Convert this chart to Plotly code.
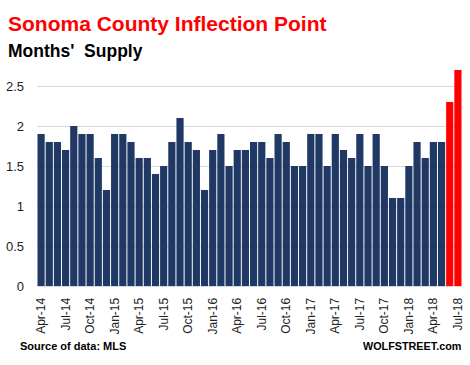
import plotly.graph_objects as go

months = ["Apr-14","May-14","Jun-14","Jul-14","Aug-14","Sep-14","Oct-14","Nov-14","Dec-14",
          "Jan-15","Feb-15","Mar-15","Apr-15","May-15","Jun-15","Jul-15","Aug-15","Sep-15","Oct-15","Nov-15","Dec-15",
          "Jan-16","Feb-16","Mar-16","Apr-16","May-16","Jun-16","Jul-16","Aug-16","Sep-16","Oct-16","Nov-16","Dec-16",
          "Jan-17","Feb-17","Mar-17","Apr-17","May-17","Jun-17","Jul-17","Aug-17","Sep-17","Oct-17","Nov-17","Dec-17",
          "Jan-18","Feb-18","Mar-18","Apr-18","May-18","Jun-18","Jul-18"]
supply = [1.9,1.8,1.8,1.7,2.0,1.9,1.9,1.6,1.2,
          1.9,1.9,1.8,1.6,1.6,1.4,1.5,1.8,2.1,1.8,1.7,1.2,
          1.7,1.9,1.5,1.7,1.7,1.8,1.8,1.6,1.9,1.8,1.5,1.5,
          1.9,1.9,1.5,1.9,1.7,1.6,1.9,1.5,1.9,1.5,1.1,1.1,
          1.5,1.8,1.6,1.8,1.8,2.3,2.7]
highlight_last = 2
tick_labels = months[::3]
y_ticks = [0, 0.5, 1, 1.5, 2, 2.5]

NAVY = "#203864"
RED = "#FF0000"
colors = [NAVY] * (len(months) - highlight_last) + [RED] * highlight_last

FONT = "Liberation Sans"

fig = go.Figure(go.Bar(x=months, y=supply, marker=dict(color=colors, line=dict(width=0)),
                       hoverinfo="x+y"))

W, H = 470, 365
L, R, T, B = 37, 8, 62, 79
pw, ph = W - L - R, H - T - B

def px(x):
    return (x - L) / pw

def py(y):
    return (H - B - y) / ph

fig.update_layout(
    width=W, height=H,
    margin=dict(l=L, r=R, t=T, b=B, pad=0, autoexpand=False),
    plot_bgcolor="white", paper_bgcolor="white",
    bargap=0.12,
    showlegend=False,
    font=dict(family=FONT, color="#222222"),
    xaxis=dict(
        type="category",
        range=[-0.5, len(months) - 0.5],
        tickmode="array", tickvals=tick_labels, ticktext=tick_labels,
        tickangle=-90, tickfont=dict(size=12, color="#222222"),
        showline=True, linecolor="#d9d9d9", linewidth=1,
        ticks="", showgrid=False, automargin=False,
        ticklabelstandoff=6,
    ),
    yaxis=dict(
        range=[0, 2.8],
        tickmode="array", tickvals=y_ticks, ticktext=[f"{v:g}" for v in y_ticks],
        tickfont=dict(size=13, color="#222222"),
        showgrid=True, gridcolor="#d9d9d9", gridwidth=1,
        zeroline=False, showline=False, ticks="", automargin=False,
        ticklabelstandoff=12,
    ),
    annotations=[
        dict(text="<b>Sonoma County Inflection Point</b>", x=px(6), y=py(23), xref="paper", yref="paper",
             xanchor="left", yanchor="middle", showarrow=False, font=dict(size=21, color=RED, family=FONT)),
        dict(text="<b>Months'  Supply</b>", x=px(6), y=py(51), xref="paper", yref="paper",
             xanchor="left", yanchor="middle", showarrow=False, font=dict(size=17.5, color="#000000", family=FONT)),
        dict(text="<b>Source of data: MLS</b>", x=px(18), y=py(346), xref="paper", yref="paper",
             xanchor="left", yanchor="middle", showarrow=False, font=dict(size=11, color="#000000", family=FONT)),
        dict(text="<b>WOLFSTREET.com</b>", x=px(463), y=py(346), xref="paper", yref="paper",
             xanchor="right", yanchor="middle", showarrow=False, font=dict(size=10.8, color="#000000", family=FONT)),
    ],
)

fig.write_html("out.html",
               config={"displayModeBar": False},
               post_script="document.body.style.margin='0';document.body.style.overflow='hidden';")
